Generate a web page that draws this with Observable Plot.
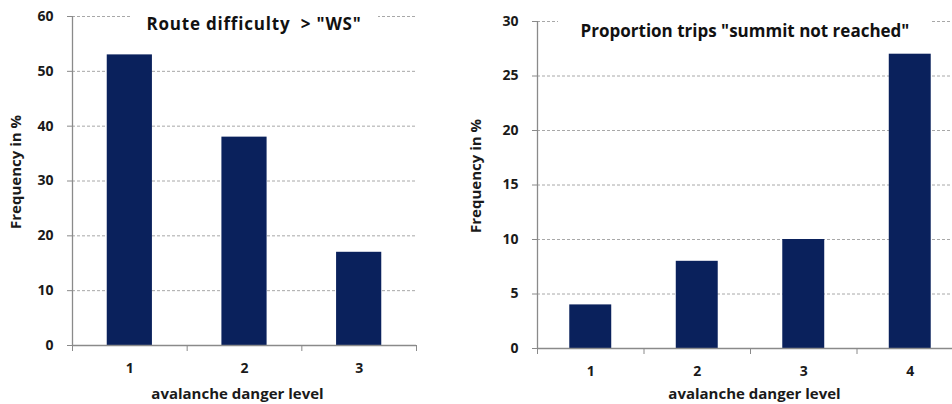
<!DOCTYPE html>
<html>
<head>
<meta charset="utf-8">
<script src="https://cdn.jsdelivr.net/npm/d3@7"></script>
<script src="https://cdn.jsdelivr.net/npm/@observablehq/plot@0.6"></script>
<style>
  html, body { margin: 0; padding: 0; background: #fff; overflow: hidden; }
  #wrap { position: relative; width: 952px; height: 404px; overflow: hidden; font-family: "Open Sans", Lato, sans-serif; }
  .panel { position: absolute; top: 0; height: 404px; overflow: hidden; }
  .panel svg { max-width: none !important; }
  .title { position: absolute; background: #fff; font-weight: 700; color: #111; white-space: pre; text-align: center; font-size: 17px; line-height: 22px; }
</style>
</head>
<body>
<div id="wrap">
  <div class="panel" id="left" style="left:0;width:460px"></div>
  <div class="panel" id="right" style="left:460px;width:492px"></div>
  <div class="title" style="left:130px;width:248px;top:13px;letter-spacing:0.8px">Route difficulty  &gt; "WS"</div>
  <div class="title" style="left:558px;width:374px;top:20px">Proportion trips "summit not reached"</div>
</div>
<script>
// Left chart: route difficulty > "WS"
const levelsA = [1, 2, 3];
const valuesA = [53, 38, 17];
const yTicksA = [0, 10, 20, 30, 40, 50, 60];

// Right chart: proportion trips "summit not reached"
const levelsB = [1, 2, 3, 4];
const valuesB = [4, 8, 10, 27];
const yTicksB = [0, 5, 10, 15, 20, 25, 30];

const xLabel = "avalanche danger level";
const yLabel = "Frequency in %";

const barColor = "#0a215c";
const axisColor = "#8a8a8a";
const gridColor = "#a8a8a8";
const textColor = "#1a1a1a";
const font = "'Open Sans', Lato, sans-serif";

function chart({levels, values, yTicks, width, height, marginLeft, marginRight, marginTop, marginBottom, xLabelDx, xLabelDy}) {
  const data = levels.map((l, i) => ({level: l, value: values[i]}));
  const n = levels.length;
  const half = 0.197;
  const boundaries = d3.range(n + 1).map(i => i + 0.5);
  return Plot.plot({
    width, height, marginLeft, marginRight, marginTop, marginBottom,
    style: {fontFamily: font, background: "transparent", overflow: "visible", maxWidth: "none"},
    x: {type: "linear", domain: [0.5, n + 0.5]},
    y: {domain: [yTicks[0], yTicks[yTicks.length - 1]]},
    marks: [
      Plot.gridY(yTicks.slice(1), {stroke: gridColor, strokeOpacity: 1, strokeDasharray: "3,2", strokeWidth: 1}),
      Plot.rectY(data, {x1: d => d.level - half, x2: d => d.level + half, y: "value", fill: barColor}),
      Plot.ruleX([0.5], {stroke: axisColor, strokeWidth: 1.3}),
      Plot.ruleY([0], {stroke: axisColor, strokeWidth: 1.3}),
      Plot.axisY(yTicks, {tickSize: 5, stroke: axisColor, tickFormat: () => "", label: null}),
      Plot.axisY(yTicks, {tickSize: 0, tickPadding: 19, fill: textColor, fontSize: 14, fontWeight: "bold", tickFormat: "d", label: null}),
      Plot.axisX(boundaries, {tickSize: 6, stroke: axisColor, tickFormat: () => "", label: null}),
      Plot.axisX(levels, {tickSize: 0, tickPadding: 18, fill: textColor, fontSize: 14, fontWeight: "bold", tickFormat: "d", label: null}),
      Plot.text([yLabel], {frameAnchor: "left", textAnchor: "middle", lineAnchor: "middle", rotate: -90, dx: -(marginLeft - 16), dy: -9, fill: textColor, fontSize: 15, fontWeight: "bold"}),
      Plot.text([xLabel], {frameAnchor: "bottom", textAnchor: "middle", lineAnchor: "middle", dy: xLabelDy, dx: xLabelDx, fill: textColor, fontSize: 15, fontWeight: "bold"})
    ]
  });
}

document.getElementById("left").append(chart({
  levels: levelsA, values: valuesA, yTicks: yTicksA,
  width: 460, height: 404, marginLeft: 72, marginRight: 44, marginTop: 16, marginBottom: 59, xLabelDx: -7, xLabelDy: 49
}));
document.getElementById("right").append(chart({
  levels: levelsB, values: valuesB, yTicks: yTicksB,
  width: 520, height: 404, marginLeft: 77, marginRight: 17, marginTop: 21, marginBottom: 56, xLabelDx: 4, xLabelDy: 46
}));
</script>
</body>
</html>
